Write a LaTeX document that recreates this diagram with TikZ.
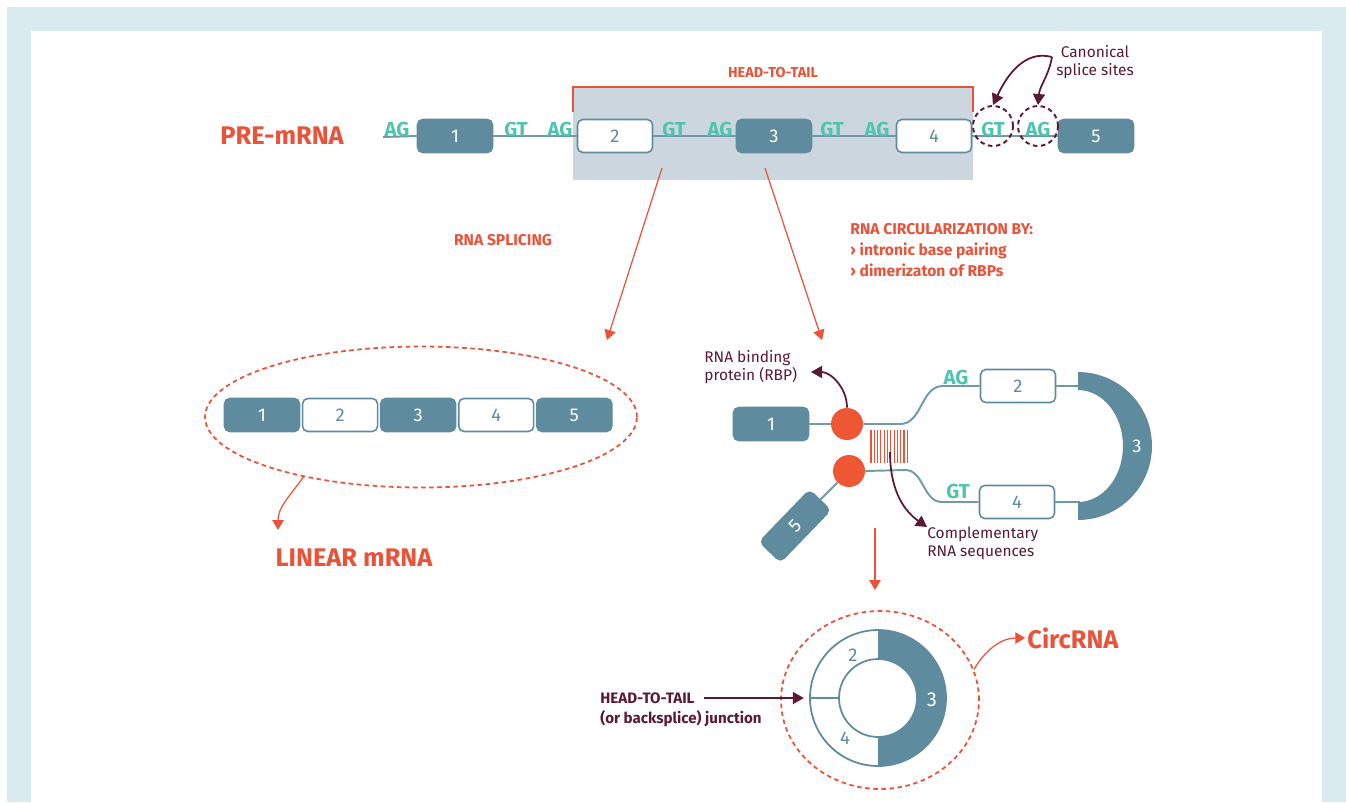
\documentclass[tikz,border=0pt]{standalone}
\usepackage{fontspec}
\setmainfont{Fira Sans}
\usetikzlibrary{positioning, shapes.geometric, arrows.meta, calc}
\definecolor{exBlue}{HTML}{5F8B9E}
\definecolor{lnBlue}{HTML}{7099AA}
\definecolor{siteTeal}{HTML}{4FC4AE}
\definecolor{hlRed}{HTML}{E8533A}
\definecolor{rbpRed}{HTML}{EE5634}
\definecolor{noteDark}{HTML}{5A1A32}
\definecolor{boxGray}{HTML}{CBD6DF}
\definecolor{frameBlue}{HTML}{DAEBF0}

\begin{document}
\begin{tikzpicture}[
  x=0.02cm, y=-0.02cm,
  exon/.style={draw=exBlue, line width=0.9pt, rounded corners=3pt, minimum width=1.5cm, minimum height=0.66cm, inner sep=0pt, font=\fontsize{10.5}{12}\selectfont},
  exd/.style={exon, fill=exBlue, text=white},
  exw/.style={exon, fill=white, text=exBlue},
  site/.style={font=\fontsize{11.5}{12}\selectfont\bfseries, text=siteTeal, inner sep=0pt},
  strand/.style={draw=lnBlue, line width=1.1pt},
  rbp/.style={circle, fill=rbpRed, minimum size=0.64cm, inner sep=0pt},
  redarr/.style={-{Triangle[length=2mm, width=2.3mm]}, hlRed, line width=0.7pt},
  darkarr/.style={-{Triangle[length=2.2mm, width=2.4mm]}, noteDark, line width=1pt},
  title/.style={font=\fontsize{14.5}{16}\selectfont\bfseries, text=hlRed, inner sep=0pt},
  note/.style={font=\fontsize{8.8}{10.2}\selectfont, text=noteDark, align=left, inner sep=0pt},
  stagelbl/.style={font=\fontsize{8.9}{12}\selectfont\bfseries, text=hlRed, align=left, inner sep=0pt},
  ssite/.style={draw=noteDark, dashed, dash pattern=on 2.6pt off 2pt, circle, line width=1.1pt, inner sep=0pt}
]
\useasboundingbox (0,0) rectangle (1346,802);
\fill[frameBlue] (7,7) rectangle (1346,802);
\fill[white] (31,31) rectangle (1322,806);

% pre-mRNA
\fill[boxGray] (573,87) rectangle (973,180);
\draw[hlRed, line width=1.1pt] (573,112) -- (573,87) -- (973,87) -- (973,112);
\node[stagelbl, font=\fontsize{8.2}{10}\selectfont\bfseries] (httop) at (773,73) {HEAD-TO-TAIL};
\node[title] (pre) at (282,136) {PRE-mRNA};
\coordinate (pstart) at (383,137);
\node[exd] (p1) at (455,136) {1};
\node[exw] (p2) at (615,136) {2};
\node[exd] (p3) at (774,136) {3};
\node[exw] (p4) at (934,136) {4};
\node[exd] (p5) at (1096,136) {5};
\draw[strand] (pstart) -- (p1.west);
\draw[strand] (p1.east) -- (p2.west);
\draw[strand] (p2.east) -- (p3.west);
\draw[strand] (p3.east) -- (p4.west);
\draw[strand] (p4.east) -- (p5.west);
\foreach \nm/\xx in {AG/397, GT/516, AG/560, GT/674, AG/720, GT/832, AG/877, GT/993, AG/1038}
  \node[site] at (\xx,129) {\nm};

\node[ssite, minimum size=0.8cm] (ssgt) at (993,126) {};
\node[ssite, minimum size=0.8cm] (ssag) at (1038,126) {};
\node[note, align=center] (canon) at (1095,62) {Canonical\\splice sites};
\coordinate (canfork) at (1052,57);
\draw[darkarr] (canfork) to[out=165, in=65] (ssgt.north);
\draw[darkarr] (canfork) to[out=-100, in=85] (ssag.north);

\coordinate (splA) at (662,168);
\coordinate (splAend) at (607,340);
\coordinate (splB) at (765,168);
\coordinate (splBend) at (822,340);
\draw[redarr] (splA) -- (splAend);
\draw[redarr] (splB) -- (splBend);
\node[stagelbl] (splicelbl) at (503,240) {RNA SPLICING};
\node[stagelbl, anchor=north west] (circlbl) at (850,223) {RNA CIRCULARIZATION BY:\\› intronic base pairing\\› dimerizaton of RBPs};

% linear mRNA
\node[exd] (l1) at (262,415) {1};
\node[exw, right=0.03cm of l1] (l2) {2};
\node[exd, right=0.03cm of l2] (l3) {3};
\node[exw, right=0.03cm of l3] (l4) {4};
\node[exd, right=0.03cm of l4] (l5) {5};
\node[draw=hlRed, dashed, dash pattern=on 2.6pt off 2pt, ellipse, line width=1pt, minimum width=8.64cm, minimum height=2.82cm] (linell) at (421,417) {};
\coordinate (linend) at (278,530);
\draw[redarr] (linell.207) to[out=235, in=90] (linend);
\node[title] (linlbl) at (354,558) {LINEAR mRNA};

% circularization
\node[exd] (c1) at (771,424) {1};
\node[rbp] (rbp1) at (847,424) {};
\node[rbp] (rbp2) at (849,471) {};
\node[exw] (c2) at (1018,386) {2};
\node[exw] (c4) at (1017,502) {4};
\node[exd, rotate=46, minimum width=1.44cm, minimum height=0.58cm] (c5) at (795,526) {5};
\draw[strand] (c1) -- (rbp1);
\draw[strand] (rbp1.east) -- (900,424) to[out=0, in=180] (943,386) -- (c2.west);
\draw[strand] (rbp2.east) -- (905,470) to[out=0, in=180] (942,502) -- (c4.west);
\draw[strand] (c5.east) -- (rbp2);
\coordinate (d3top) at (1080,386);
\coordinate (d3bot) at (1080,502);
\draw[strand] (c2.east) -- (d3top);
\draw[strand] (c4.east) -- (d3bot);
\fill[exBlue] (1078,372) arc[start angle=90, end angle=-90, radius=1.48cm] -- (1078,502)
  arc[start angle=-90, end angle=90, x radius=0.9cm, y radius=1.12cm] -- cycle;
\node[text=white, font=\fontsize{10.5}{12}\selectfont] (c3) at (1137,446) {3};
\node[site] at (956,377) {AG};
\node[site] at (958,491) {GT};
\foreach \i in {0,...,11}
  \draw[hlRed, line width=0.6pt] (871+3.3*\i,430) -- (871+3.3*\i,463);
\coordinate (combmid) at (890,452);

\node[note, anchor=west] (rbplbl) at (704,367) {RNA binding\\protein (RBP)};
\coordinate (rbptip) at (811,372);
\draw[darkarr] (rbp1.north) to[out=90, in=0] (rbptip);
\node[note, anchor=north west] (complbl) at (927,527) {Complementary\\RNA sequences};
\draw[darkarr] (combmid) to[out=-90, in=145] (complbl.north west);

\coordinate (dnA) at (875,528);
\coordinate (dnB) at (875,590);
\draw[redarr] (dnA) -- (dnB);

% circRNA
\node[circle, draw=exBlue, line width=1pt, minimum size=2.72cm, inner sep=0pt] (ringout) at (878,698) {};
\fill[exBlue] (878,630) arc[start angle=90, end angle=-90, radius=1.36cm] -- (878,737)
  arc[start angle=-90, end angle=90, radius=0.78cm] -- cycle;
\node[circle, draw=exBlue, line width=1pt, minimum size=1.56cm, inner sep=0pt] (ringin) at (878,698) {};
\draw[exBlue, line width=1pt] (ringout.west) -- (ringin.west);
\node[text=exBlue, font=\fontsize{10.5}{12}\selectfont] (r2) at (853,655) {2};
\node[text=exBlue, font=\fontsize{10.5}{12}\selectfont] (r4) at (845,738) {4};
\node[text=white, font=\fontsize{11.5}{12}\selectfont] (r3) at (932,700) {3};
\node[draw=hlRed, dashed, dash pattern=on 2.6pt off 2pt, ellipse, line width=1pt, minimum width=3.96cm, minimum height=3.56cm] (circdash) at (880,700) {};
\node[title, anchor=west] (circrna) at (1027,638) {CircRNA};
\draw[redarr] (circdash.18) to[out=60, in=180] ([xshift=-1pt]circrna.west);

\node[note, font=\fontsize{8.6}{10}\selectfont\bfseries, anchor=west] (jlbl) at (600,698) {HEAD-TO-TAIL};
\node[note, font=\fontsize{8.6}{10}\selectfont\bfseries, anchor=west] (jlbl2) at (600,719) {(or backsplice) junction};
\draw[darkarr, shorten <=5pt, shorten >=3pt] (jlbl.east) -- (ringout.west);
\end{tikzpicture}
\end{document}
